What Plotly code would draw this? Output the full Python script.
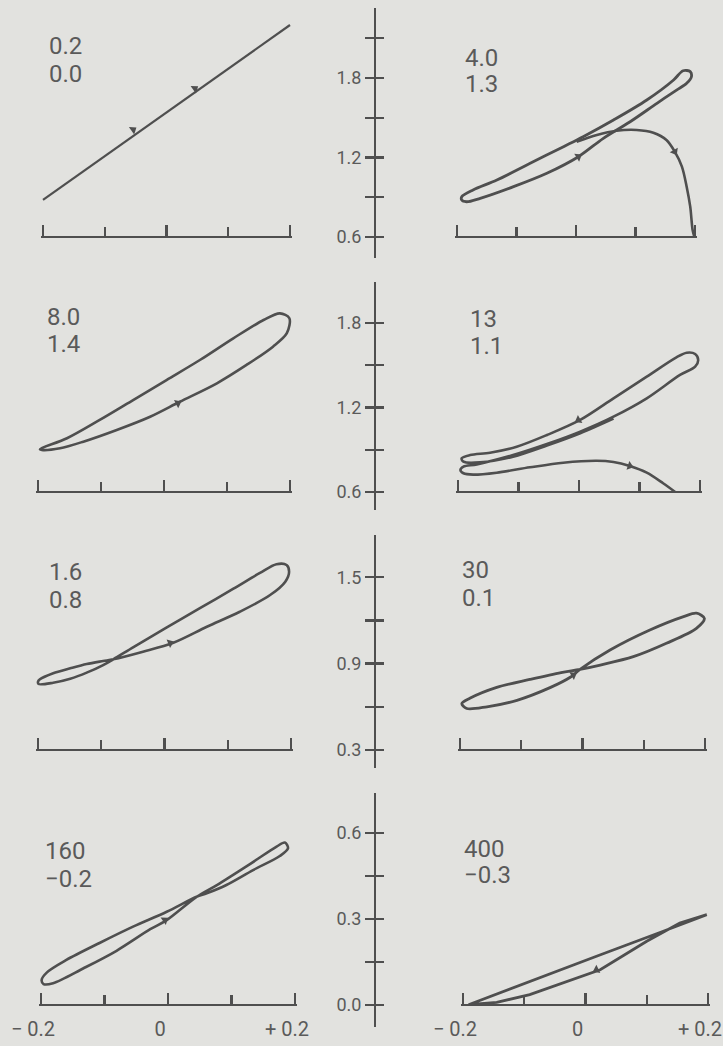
import plotly.graph_objects as go

W, H = 723, 1046
INK = "#4f4f4f"
TXT = "#5a5a5a"
BG = "#e2e2df"
FONT = "Liberation Sans Narrow, Roboto, Liberation Sans, sans-serif"

# ---------------- data ----------------
label_top = ["0.2", "4.0", "8.0", "13", "1.6", "30", "160", "400"]
label_bot = ["0.0", "1.3", "1.4", "1.1", "0.8", "0.1", "\u22120.2", "\u22120.3"]

x_tickvals = [-0.2, 0.0, 0.2]
x_minorvals = [-0.1, 0.1]
x_ticktext = ["\u2212 0.2", "0", "+ 0.2"]

row_ticks = [
    [0.6, 0.9, 1.2, 1.5, 1.8, 2.1],
    [0.6, 0.9, 1.2, 1.5, 1.8],
    [0.3, 0.6, 0.9, 1.2, 1.5],
    [0.0, 0.15, 0.3, 0.45, 0.6],
]
row_ticktext = [
    ["0.6", "", "1.2", "", "1.8", ""],
    ["0.6", "", "1.2", "", "1.8"],
    ["0.3", "", "0.9", "", "1.5"],
    ["0.0", "", "0.3", "", "0.6"],
]

# panel 1 (0.2 / 0.0)
p1_x = [-0.2, 0.2]
p1_y = [0.88, 2.2]
a1_x = [-0.054, 0.046]
a1_y = [1.41, 1.72]
a1_ang = [55, 55]

# panel 2 (4.0 / 1.3)
p2_loop_x = [-0.192, -0.173, -0.133, -0.077, -0.021, 0.012, 0.063, 0.119, 0.164, 0.180, 0.192,
             0.194, 0.186, 0.169, 0.136, 0.091, 0.046, 0.004, -0.049, -0.105, -0.161, -0.184,
             -0.192, -0.192]
p2_loop_y = [0.904, 0.955, 1.030, 1.156, 1.282, 1.357, 1.483, 1.634, 1.785, 1.855, 1.848,
             1.810, 1.760, 1.709, 1.609, 1.470, 1.345, 1.206, 1.081, 0.980, 0.892, 0.866,
             0.879, 0.904]
p2_arch_x = [0.001, 0.035, 0.068, 0.102, 0.130, 0.152, 0.166, 0.178, 0.186, 0.192, 0.196, 0.199]
p2_arch_y = [1.319, 1.370, 1.402, 1.408, 1.387, 1.332, 1.244, 1.131, 0.980, 0.829, 0.653, 0.600]
a2_x = [0.004, 0.166]
a2_y = [1.206, 1.244]
a2_ang = [58, 150]

# panel 3 (8.0 / 1.4)
p3_x = [-0.197, -0.154, -0.102, -0.049, 0.004, 0.057, 0.110, 0.158, 0.184, 0.199, 0.195,
        0.173, 0.131, 0.084, 0.025, -0.022, -0.075, -0.128, -0.165, -0.194, -0.197]
p3_y = [0.903, 0.981, 1.111, 1.252, 1.394, 1.536, 1.690, 1.820, 1.867, 1.832, 1.726,
        1.631, 1.501, 1.371, 1.240, 1.134, 1.040, 0.957, 0.910, 0.898, 0.903]
a3_x = [0.022]
a3_y = [1.229]
a3_ang = [63]

# panel 4 (13 / 1.1)
p4_x = [0.159, 0.139, 0.112, 0.084, 0.057, 0.029, -0.026, -0.081, -0.136, -0.175, -0.191,
        -0.196, -0.191, -0.169, -0.109, -0.053, 0.002, 0.057, 0.112, 0.167, 0.192, 0.197,
        0.192, 0.178, 0.161, 0.112, 0.057, 0.002, -0.053, -0.103, -0.147, -0.180, -0.194,
        -0.191, -0.164, -0.109, -0.053, 0.002, 0.057]
p4_y = [0.600, 0.662, 0.737, 0.784, 0.813, 0.822, 0.808, 0.775, 0.737, 0.723, 0.733,
        0.756, 0.780, 0.796, 0.862, 0.940, 1.028, 1.134, 1.264, 1.430, 1.489, 1.536,
        1.579, 1.588, 1.555, 1.418, 1.264, 1.111, 1.004, 0.921, 0.879, 0.862, 0.839,
        0.815, 0.810, 0.850, 0.929, 1.016, 1.120]
a4_x = [-0.001, 0.084]
a4_y = [1.111, 0.784]
a4_ang = [241, 108]

# panel 5 (1.6 / 0.8)
p5_x = [0.197, 0.191, 0.167, 0.119, 0.067, 0.014, -0.034, -0.081, -0.097, -0.123, -0.149,
        -0.176, -0.197, -0.200, -0.199, -0.176, -0.149, -0.123, -0.097, -0.081, -0.049, 0.003,
        0.056, 0.109, 0.151, 0.177, 0.193, 0.197]
p5_y = [1.538, 1.469, 1.376, 1.260, 1.156, 1.045, 0.983, 0.930, 0.918, 0.897, 0.867,
        0.833, 0.791, 0.774, 0.758, 0.767, 0.795, 0.837, 0.890, 0.930, 1.015, 1.150,
        1.285, 1.420, 1.530, 1.590, 1.585, 1.538]
a5_x = [0.009]
a5_y = [1.043]
a5_ang = [68]

# panel 6 (30 / 0.1)
p6_x = [0.199, 0.186, 0.137, 0.083, 0.029, -0.004, -0.035, -0.086, -0.140, -0.184, -0.197,
        -0.189, -0.156, -0.107, -0.053, -0.020, -0.004, 0.045, 0.110, 0.165, 0.186, 0.199]
p6_y = [1.214, 1.145, 1.041, 0.948, 0.890, 0.860, 0.838, 0.790, 0.735, 0.659, 0.622,
        0.588, 0.600, 0.645, 0.733, 0.805, 0.860, 0.994, 1.133, 1.226, 1.250, 1.214]
a6_x = [-0.015]
a6_y = [0.821]
a6_ang = [60]

# panel 7 (160 / -0.2)
p7_x = [0.189, 0.176, 0.134, 0.092, 0.061, 0.045, -0.002, -0.055, -0.107, -0.160, -0.191,
        -0.199, -0.196, -0.181, -0.133, -0.081, -0.028, -0.002, 0.045, 0.077, 0.129, 0.171,
        0.184, 0.189]
p7_y = [0.546, 0.519, 0.470, 0.418, 0.389, 0.377, 0.325, 0.273, 0.217, 0.157, 0.113,
        0.087, 0.073, 0.076, 0.128, 0.189, 0.264, 0.296, 0.377, 0.418, 0.491, 0.552,
        0.566, 0.546]
a7_x = [-0.005]
a7_y = [0.296]
a7_ang = [55]

# panel 8 (400 / -0.3)
p8_x = [-0.191, -0.091, 0.018, 0.127, 0.198, 0.154, 0.100, 0.024, -0.036, -0.091, -0.145, -0.191]
p8_y = [0.001, 0.083, 0.170, 0.257, 0.315, 0.286, 0.222, 0.123, 0.077, 0.036, 0.009, 0.001]
a8_x = [0.018]
a8_y = [0.123]
a8_ang = [245]

# ---------------- layout geometry (pixels) ----------------
rows = [
    dict(v0=0.6, p0=237, k=132.5, top=8, bot=258),
    dict(v0=0.6, p0=492, k=141.0, top=282, bot=510),
    dict(v0=0.3, p0=750, k=144.0, top=535, bot=768),
    dict(v0=0.0, p0=1005, k=287.0, top=793, bot=1027),
]
col_px = [  # pixel x of -0.2 and +0.2 in each panel
    [(43, 290), (457, 695)],
    [(38, 290), (458, 700)],
    [(38, 291), (460, 705)],
    [(41, 295), (463, 708)],
]
XPAD = 0.003  # small extension of x range so the end ticks are drawn
YAXIS_X = 375
label_pos = [  # (left x, centre y line1, centre y line2)
    (47, 46, 74), (463, 58, 84),
    (45, 317, 344), (468, 319, 346),
    (47, 572, 600), (460, 570, 598),
    (43, 851, 879), (462, 849, 875),
]

panels = [
    ([(p1_x, p1_y, "linear", 2.2)], (a1_x, a1_y, a1_ang)),
    ([(p2_loop_x, p2_loop_y, "spline", 2.8), (p2_arch_x, p2_arch_y, "spline", 2.6)], (a2_x, a2_y, a2_ang)),
    ([(p3_x, p3_y, "spline", 2.6)], (a3_x, a3_y, a3_ang)),
    ([(p4_x, p4_y, "spline", 2.6)], (a4_x, a4_y, a4_ang)),
    ([(p5_x, p5_y, "spline", 2.6)], (a5_x, a5_y, a5_ang)),
    ([(p6_x, p6_y, "spline", 2.8)], (a6_x, a6_y, a6_ang)),
    ([(p7_x, p7_y, "spline", 2.6)], (a7_x, a7_y, a7_ang)),
    ([(p8_x, p8_y, "linear", 2.8)], (a8_x, a8_y, a8_ang)),
]

fig = go.Figure()

for idx, (curves, arrows) in enumerate(panels):
    i = idx + 1
    for cx, cy, shape, lw in curves:
        fig.add_trace(go.Scatter(
            x=cx, y=cy, mode="lines", xaxis=f"x{i}", yaxis=f"y{i}",
            line=dict(color=INK, width=lw, shape=shape, smoothing=0.9),
            hoverinfo="skip", showlegend=False))
    ax, ay, aang = arrows
    fig.add_trace(go.Scatter(
        x=ax, y=ay, mode="markers", xaxis=f"x{i}", yaxis=f"y{i}",
        marker=dict(symbol="triangle-up", size=8, color=INK, angle=aang, line=dict(width=0)),
        hoverinfo="skip", showlegend=False, cliponaxis=False))

layout = dict(
    width=W, height=H, margin=dict(l=0, r=0, t=0, b=0, autoexpand=False),
    paper_bgcolor=BG, plot_bgcolor="rgba(0,0,0,0)", showlegend=False,
    font=dict(family=FONT, color=TXT),
)

for r, row in enumerate(rows):
    yr = [row["v0"] - (row["bot"] - row["p0"]) / row["k"],
          row["v0"] + (row["p0"] - row["top"]) / row["k"]]
    ydom = [1 - row["bot"] / H, 1 - row["top"] / H]
    base = 1 - row["p0"] / H
    for c in range(2):
        i = r * 2 + c + 1
        x0, x1 = col_px[r][c]
        kx = (x1 - x0) / 0.4
        d0, d1 = x0 - XPAD * kx, x1 + XPAD * kx
        layout[f"xaxis{i}"] = dict(
            domain=[d0 / W, min(d1 / W, 1.0)], range=[-0.2 - XPAD, 0.2 + XPAD],
            anchor="free", position=base, automargin=False,
            showline=True, linecolor=INK, linewidth=2.4,
            tickmode="array", tickvals=x_tickvals, ticktext=x_ticktext,
            ticks="inside", ticklen=11, tickwidth=2.2, tickcolor=INK,
            minor=dict(tickmode="array", tickvals=x_minorvals, ticks="inside",
                       ticklen=9, tickwidth=2.2, tickcolor=INK, showgrid=False),
            showticklabels=(r == 3), ticklabelshift=-8, ticklabelstandoff=6,
            ticklabeloverflow="allow",
            tickfont=dict(family=FONT, size=20, color=TXT),
            showgrid=False, zeroline=False, fixedrange=True)
        ycfg = dict(domain=ydom, range=yr, showgrid=False, zeroline=False, fixedrange=True,
                    automargin=False)
        if c == 0:
            ycfg.update(visible=False, anchor=f"x{i}")
        else:
            ycfg.update(
                anchor="free", position=YAXIS_X / W, showline=True, linecolor=INK, linewidth=2.4,
                tickmode="array", tickvals=row_ticks[r], ticktext=row_ticktext[r],
                ticks="outside", ticklen=9, tickwidth=2.2, tickcolor=INK,
                tickfont=dict(family=FONT, size=18, color=TXT))
        layout[f"yaxis{i}"] = ycfg
    j = 9 + r
    layout[f"yaxis{j}"] = dict(
        overlaying=f"y{r * 2 + 2}", anchor="free", position=YAXIS_X / W, range=yr,
        automargin=False,
        showline=False, tickmode="array", tickvals=row_ticks[r], ticks="inside", ticklen=8,
        tickwidth=2.2, tickcolor=INK, showticklabels=False, showgrid=False, zeroline=False,
        fixedrange=True)
    fig.add_trace(go.Scatter(x=[None], y=[None], xaxis=f"x{r * 2 + 2}", yaxis=f"y{j}",
                             mode="lines", hoverinfo="skip", showlegend=False))

annotations = []
for k, (lx, ly1, ly2) in enumerate(label_pos):
    for text, ly in ((label_top[k], ly1), (label_bot[k], ly2)):
        annotations.append(dict(
            text=text, x=lx / W, y=1 - ly / H, xref="paper", yref="paper",
            xanchor="left", yanchor="middle", showarrow=False,
            font=dict(family=FONT, size=24, color=TXT)))
layout["annotations"] = annotations

fig.update_layout(**layout)
fig.write_html(
    "out.html",
    config={"displayModeBar": False, "staticPlot": True},
    post_script="document.body.style.margin='0px';document.body.style.backgroundColor='%s';" % BG,
)
